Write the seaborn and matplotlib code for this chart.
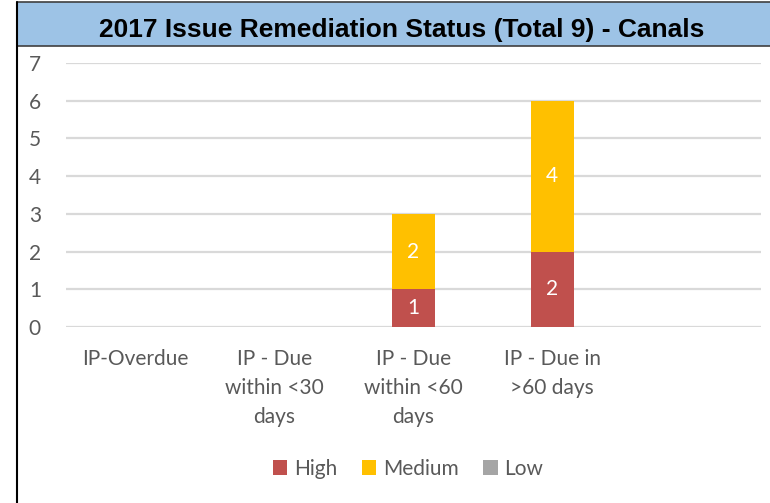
import seaborn as sns
import matplotlib.pyplot as plt
from matplotlib.patches import Rectangle, Patch

# Chart data
categories = ["IP-Overdue", "IP - Due\nwithin <30\ndays", "IP - Due\nwithin <60\ndays",
              "IP - Due in\n>60 days", " "]
high = [0, 0, 1, 2, 0]
medium = [0, 0, 2, 4, 0]
low = [0, 0, 0, 0, 0]
series_names = ["High", "Medium", "Low"]
series_colors = ["#C0504D", "#FFC000", "#A5A5A5"]
title = "2017 Issue Remediation Status (Total 9) - Canals"

sns.set_theme(style="white")
plt.rcParams['font.family'] = ['Lato', 'DejaVu Sans']

fig = plt.figure(figsize=(7.7, 5.03), dpi=100)
ax = fig.add_axes([0.0857, 0.350, 0.9023, 0.525])

# stacked bars
sns.barplot(x=categories, y=high, color=series_colors[0], width=0.31,
            saturation=1, linewidth=0, edgecolor='none', ax=ax, zorder=3)
sns.barplot(x=categories, y=medium, bottom=high, color=series_colors[1],
            width=0.31, saturation=1, linewidth=0, edgecolor='none', ax=ax, zorder=3)

# data labels
for i in range(len(categories)):
    if high[i] > 0:
        ax.text(i, high[i] / 2, str(high[i]), ha='center', va='center',
                color='white', fontsize=15, zorder=4)
    if medium[i] > 0:
        ax.text(i, high[i] + medium[i] / 2, str(medium[i]), ha='center',
                va='center', color='white', fontsize=15, zorder=4)

ax.set_ylim(0, 7)
ax.set_xlim(-0.5, len(categories) - 0.5)
ax.set_yticks(range(0, 8))
ax.yaxis.grid(True, color='#D9D9D9', linewidth=1.6, zorder=0)
ax.set_axisbelow(True)
for s in ax.spines.values():
    s.set_visible(False)
ax.tick_params(axis='both', length=0, labelsize=15, labelcolor='#595959')
ax.tick_params(axis='y', pad=18)
ax.tick_params(axis='x', pad=16)
for lbl in ax.get_xticklabels():
    lbl.set_linespacing(1.55)
    lbl.set_va('top')

# title banner and frame
fig.patches.append(Rectangle((17 / 770, 1 - 46 / 503), 1, 44 / 503,
                             transform=fig.transFigure, facecolor='#9DC3E6',
                             edgecolor='none', zorder=0))
fig.lines.append(plt.Line2D([17 / 770, 1], [1 - 46 / 503] * 2,
                            transform=fig.transFigure, color='#404040', lw=1.2))
fig.lines.append(plt.Line2D([17 / 770, 1], [1 - 2 / 503] * 2,
                            transform=fig.transFigure, color='#404040', lw=1.2))
fig.lines.append(plt.Line2D([17 / 770, 17 / 770], [0, 1 - 2 / 503],
                            transform=fig.transFigure, color='black', lw=1.5))
fig.text(402 / 770, 1 - 30 / 503, title, ha='center', va='center',
         fontsize=19, fontweight='bold', family=['Liberation Sans', 'DejaVu Sans'],
         color='black')

handles = [Patch(facecolor=c, edgecolor='none') for c in series_colors]
leg = fig.legend(handles, series_names, loc='center', ncol=3,
                 bbox_to_anchor=(408 / 770, 1 - 469 / 503), frameon=False,
                 fontsize=15, handlelength=0.7, handleheight=0.7,
                 handletextpad=0.3, columnspacing=1.2)
for t in leg.get_texts():
    t.set_color('#595959')

fig.savefig("out.png", dpi=100)
